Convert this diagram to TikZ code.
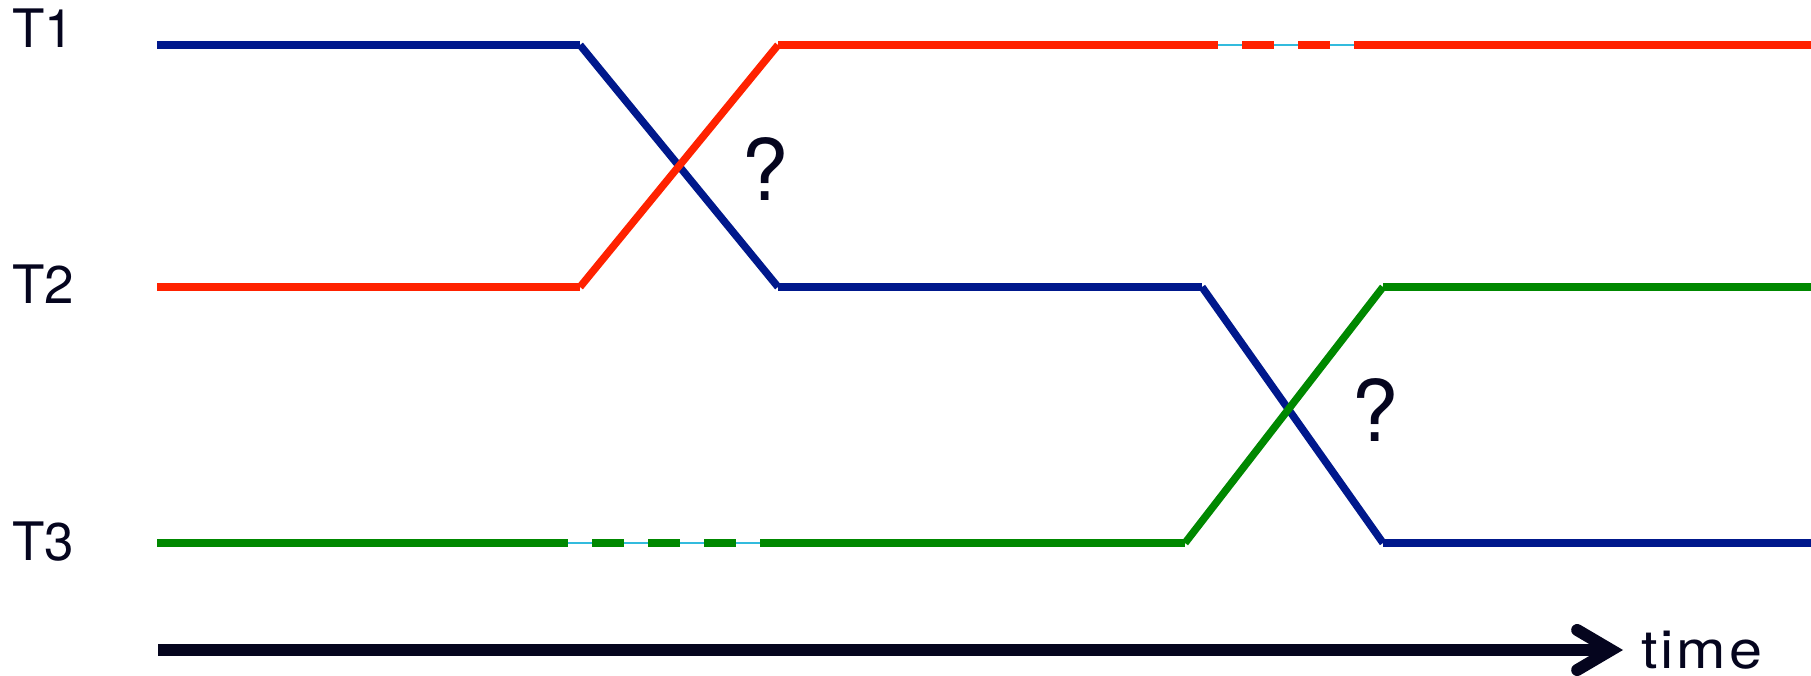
\documentclass[tikz,border=0pt]{standalone}
\usepackage{fontspec}
\setsansfont{TeX Gyre Heros}
\usetikzlibrary{arrows.meta,positioning}

\definecolor{trackblue}{RGB}{0,24,140}
\definecolor{trackred}{RGB}{255,34,0}
\definecolor{trackgreen}{RGB}{0,136,0}
\definecolor{gapcyan}{RGB}{51,187,221}
\definecolor{timeink}{RGB}{5,5,30}

\begin{document}
\begin{tikzpicture}[
    x=1pt, y=-1pt,
    font=\sffamily,
    track/.style={
        line width=7.5pt,
        line cap=butt
    },
    gapped/.style={
        track,
        dash pattern=on 32pt off 24pt
    },
    thin/.style={
        draw=gapcyan,
        line width=1.5pt
    },
    lbl/.style={
        anchor=base west,
        inner sep=0pt,
        text=timeink,
        font=\sffamily\fontsize{53}{60}\selectfont
    },
    ask/.style={
        anchor=base west,
        inner sep=0pt,
        text=timeink,
        font=\sffamily\fontsize{85}{90}\selectfont
    },
    timearrow/.style={
        draw=timeink,
        line width=12pt,
        -{Straight Barb[length=34pt,width=40pt,line cap=round]}
    }
]
\useasboundingbox (0,0) rectangle (1811,675);

\coordinate (s1) at (157,45);
\coordinate (s2) at (157,287);
\coordinate (s3) at (157,543);
\coordinate (a1) at (580,45);
\coordinate (a2) at (580,287);
\coordinate (b1) at (778,45);
\coordinate (b2) at (778,287);
\coordinate (c1) at (1201,45);
\coordinate (c2) at (1202,287);
\coordinate (g3) at (1185,543);
\coordinate (d1) at (1383,45);
\coordinate (d2) at (1383,287);
\coordinate (d3) at (1383,543);
\coordinate (e1) at (1811,45);
\coordinate (e2) at (1811,287);
\coordinate (e3) at (1811,543);

\coordinate (rdash0) at (1186,45);
\coordinate (rdash1) at (1386,45);
\coordinate (rthin0) at (1201,45);
\coordinate (rthin1) at (1370,45);
\coordinate (gdash0) at (536,543);
\coordinate (gdash1) at (792,543);
\coordinate (gsolid0) at (568,543);
\coordinate (gsolid1) at (760,543);
\coordinate (gthin1) at (808,543);

\coordinate (t0) at (158,650);
\coordinate (t1) at (1623,650);

\node[lbl] (lab1) at (12,47) {T1};
\node[lbl] (lab2) at (12,303) {T2};
\node[lbl] (lab3) at (12,560) {T3};
\node[ask] (q1) at (741,200) {?};
\node[ask] (q2) at (1351,441) {?};
\node[lbl, xscale=1.12, font=\sffamily\fontsize{53}{60}\selectfont\addfontfeature{LetterSpace=5}] (time) at (1641,668) {time};

\draw[thin] (rthin0) -- (rthin1);
\draw[thin] (gsolid0) -- (gthin1);

\draw[track, trackblue] (s1) -- (a1);
\draw[track, trackblue] (a1) -- (b2);
\draw[track, trackblue] (b2) -- (c2);
\draw[track, trackblue] (c2) -- (d3);
\draw[track, trackblue] (d3) -- (e3);

\draw[track, trackred] (s2) -- (a2);
\draw[track, trackred] (a2) -- (b1);
\draw[track, trackred] (b1) -- (c1);
\draw[gapped, trackred] (rdash0) -- (rdash1);
\draw[track, trackred] (d1) -- (e1);

\draw[track, trackgreen] (s3) -- (gsolid0);
\draw[gapped, trackgreen] (gdash0) -- (gdash1);
\draw[track, trackgreen] (gsolid1) -- (g3);
\draw[track, trackgreen] (g3) -- (d2);
\draw[track, trackgreen] (d2) -- (e2);

\draw[timearrow] (t0) -- (t1);

\end{tikzpicture}
\end{document}
